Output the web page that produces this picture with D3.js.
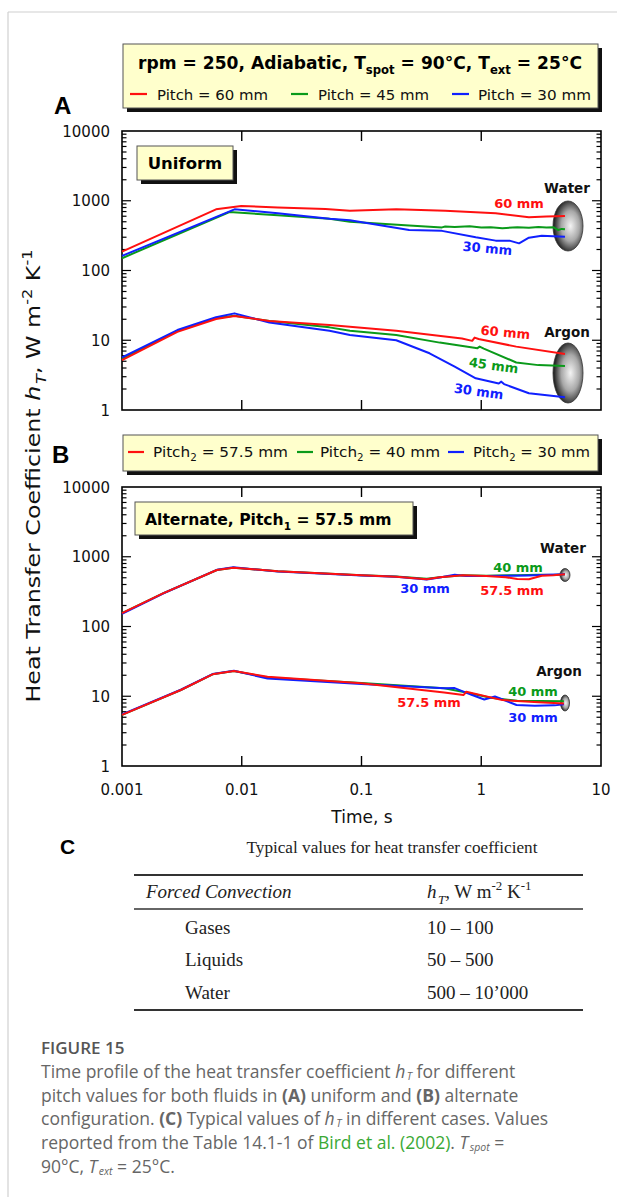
<!DOCTYPE html>
<html><head><meta charset="utf-8">
<script src="https://cdn.jsdelivr.net/npm/d3@7/dist/d3.min.js"></script>
<style>body{margin:0;background:#fff}</style>
</head><body>
<svg id="c" width="617" height="1197" xmlns="http://www.w3.org/2000/svg"></svg>
<script>
// ---------------- DATA ----------------
const timeTicks = [0.001, 0.01, 0.1, 1, 10];
const timeTickLabels = ["0.001", "0.01", "0.1", "1", "10"];
const hTicks = [1, 10, 100, 1000, 10000];
const hTickLabels = ["1", "10", "100", "1000", "10000"];

// Panel A (uniform) – water
const uniWater60 = [[0.001,186],[0.0061,754],[0.0099,841],[0.02,800],[0.05,760],[0.08,720],[0.195,754],[0.5,720],[1.32,661],[2.5,580],[3.5,595],[5,605]];
const uniWater45 = [[0.001,150],[0.0079,690],[0.02,620],[0.054,553],[0.08,500],[0.25,440],[0.47,415],[0.5,428],[0.6,420],[0.8,430],[1,412],[1.2,418],[1.5,405],[2,418],[2.5,410],[3,420],[3.5,412],[4,418],[4.4,380],[4.7,395],[5,390]];
const uniWater30 = [[0.001,162],[0.0087,754],[0.02,660],[0.054,553],[0.08,525],[0.25,380],[0.47,370],[0.9,299],[1.32,268],[1.72,268],[2.07,245],[2.5,295],[3.2,316],[5,305]];
// Panel A (uniform) – argon
const uniArgon60 = [[0.001,5.2],[0.0029,13.2],[0.0061,20.2],[0.0087,22.3],[0.017,18.9],[0.054,16.6],[0.195,13.7],[0.69,10.6],[0.84,9.8],[0.88,10.9],[0.95,10.4],[1.96,8.1],[5,6.35]];
const uniArgon45 = [[0.001,5.4],[0.0029,13.6],[0.0061,20.8],[0.0087,22.5],[0.017,18.9],[0.054,15.3],[0.08,13.7],[0.195,11.9],[0.45,9.25],[0.93,7.7],[0.97,8.1],[1.05,7.6],[1.96,4.8],[3,4.4],[5,4.27]];
const uniArgon30 = [[0.001,5.7],[0.0029,14.0],[0.0061,21.4],[0.0087,24.3],[0.017,18.0],[0.054,13.7],[0.08,11.9],[0.195,10],[0.37,6.5],[0.6,4.2],[0.9,2.85],[1.4,2.4],[1.47,2.55],[1.55,2.35],[2.5,1.74],[5,1.52]];

// Panel B (alternate) – water
const altWater575 = [[0.001,155],[0.0022,299],[0.0062,645],[0.0085,697],[0.02,620],[0.1,542],[0.195,518],[0.35,475],[0.45,507],[0.7,542],[1.1,530],[1.6,510],[2.0,478],[2.5,475],[3.2,535],[4,545],[5,560]];
const altWater40 = [[0.001,155],[0.0022,299],[0.0062,645],[0.0085,697],[0.02,620],[0.1,545],[0.195,520],[0.35,482],[0.45,510],[0.7,545],[1.1,535],[2,545],[3,550],[4,548],[5,560]];
const altWater30 = [[0.001,152],[0.0022,297],[0.0062,650],[0.0085,705],[0.02,615],[0.1,540],[0.195,515],[0.35,472],[0.45,505],[0.6,550],[0.75,530],[1.1,528],[1.6,535],[2.5,540],[3.5,550],[5,560]];
// Panel B (alternate) – argon
const altArgon575 = [[0.001,5.4],[0.0031,12.3],[0.0057,20.6],[0.0086,23],[0.0164,19],[0.1,15.3],[0.49,11.3],[0.71,10.4],[0.75,11.6],[1.5,8.8],[3,8.2],[4.9,7.9]];
const altArgon40 = [[0.001,5.4],[0.0031,12.3],[0.0057,20.6],[0.0086,23],[0.0164,18.6],[0.1,15.5],[0.49,13],[0.75,11.3],[1.2,9.5],[2,8.6],[4.9,8.5]];
const altArgon30 = [[0.001,5.5],[0.0031,12.4],[0.0057,20.8],[0.0086,23.2],[0.0164,18],[0.1,15.0],[0.49,13],[0.6,13.1],[0.84,10.4],[1.06,9.0],[1.3,9.9],[1.97,7.5],[2.8,7.3],[4.1,7.4],[4.9,7.7]];

// Table C
const tableRows = ["Gases", "Liquids", "Water"];
const tableValues = ["10 – 100", "50 – 500", "500 – 10’000"];

// ---------------- DRAW ----------------
const RED = "#ff1010", GREEN = "#0a9a1a", BLUE = "#1020ff";
const F = "DejaVu Sans";
const svg = d3.select("#c");
svg.append("rect").attr("width",617).attr("height",1197).attr("fill","#fff");
svg.append("line").attr("x1",8).attr("x2",617).attr("y1",12).attr("y2",12).attr("stroke","#d0d0d0").attr("stroke-width",1.2);
svg.append("line").attr("x1",8).attr("x2",8).attr("y1",12).attr("y2",1197).attr("stroke","#d0d0d0").attr("stroke-width",1.2);

const defs = svg.append("defs");
const rg = defs.append("radialGradient").attr("id","ball").attr("cx","58%").attr("cy","50%").attr("r","55%");
rg.append("stop").attr("offset","0%").attr("stop-color","#f4f4f4");
rg.append("stop").attr("offset","55%").attr("stop-color","#a8a8a8");
rg.append("stop").attr("offset","100%").attr("stop-color","#222");

function rich(t, segs, size, subDrop, subScale){
  subDrop = subDrop ?? 0.3; subScale = subScale ?? 0.68;
  let shift = 0;
  segs.forEach(s=>{
    const target = s.sub ? size*subDrop : (s.sup ? -size*0.42 : 0);
    const ts = t.append("tspan").text(s.t);
    if (target !== shift) ts.attr("dy", target - shift);
    shift = target;
    if (s.sub) ts.attr("font-size", size*subScale);
    if (s.sup) ts.attr("font-size", size*0.68);
    if (s.sub && s.it) ts.attr("dx", 1.5);
    if (s.it) ts.attr("font-style","italic");
    if (s.b) ts.attr("font-weight","bold");
    if (s.fill) ts.attr("fill", s.fill);
  });
  return t;
}
function box(x,y,w,h){
  svg.append("rect").attr("x",x+4).attr("y",y+4).attr("width",w).attr("height",h).attr("fill","#111");
  svg.append("rect").attr("x",x).attr("y",y).attr("width",w).attr("height",h).attr("fill","#ffffcc").attr("stroke","#555").attr("stroke-width",1);
}

const x = d3.scaleLog().domain([0.001,10]).range([122,601]);

function panel(y, water, argon, ballsW, ballsA){
  const [y0,y1] = y.range();
  svg.append("rect").attr("x",x(0.001)).attr("y",y1).attr("width",x(10)-x(0.001)).attr("height",y0-y1)
     .attr("fill","none").attr("stroke","#000").attr("stroke-width",1.6);
  y.ticks().forEach(v=>{
    const major = Math.abs(Math.log10(v) - Math.round(Math.log10(v))) < 1e-9;
    const len = major ? 9 : 4.5;
    if (v===1 || v===10000) return;
    svg.append("line").attr("x1",x(0.001)).attr("x2",x(0.001)+len).attr("y1",y(v)).attr("y2",y(v)).attr("stroke","#000").attr("stroke-width",1.2);
    svg.append("line").attr("x1",x(10)).attr("x2",x(10)-len).attr("y1",y(v)).attr("y2",y(v)).attr("stroke","#000").attr("stroke-width",1.2);
  });
  timeTicks.slice(1,-1).forEach(t=>{
    svg.append("line").attr("x1",x(t)).attr("x2",x(t)).attr("y1",y1).attr("y2",y1+10).attr("stroke","#000").attr("stroke-width",1.4);
    svg.append("line").attr("x1",x(t)).attr("x2",x(t)).attr("y1",y0).attr("y2",y0-10).attr("stroke","#000").attr("stroke-width",1.4);
  });
  hTicks.forEach((v,i)=>{
    svg.append("text").attr("x",110).attr("y",y(v)+5.5).attr("text-anchor","end")
      .attr("font-family",F).attr("font-size",15).attr("fill","#111").text(hTickLabels[i]);
  });
  [ballsW, ballsA].forEach(b=>{
    svg.append("ellipse").attr("cx",b[0]).attr("cy",b[1]).attr("rx",b[2]).attr("ry",b[3]).attr("fill","url(#ball)").attr("stroke","#333").attr("stroke-width",0.8);
  });
  const line = d3.line().x(d=>x(d[0])).y(d=>y(d[1]));
  [[water[2],GREEN],[water[1],BLUE],[water[0],RED],[argon[2],GREEN],[argon[1],BLUE],[argon[0],RED]].forEach(([d,c])=>{
    svg.append("path").datum(d).attr("d",line).attr("fill","none").attr("stroke",c).attr("stroke-width",2).attr("stroke-linejoin","round");
  });
}

function label(txt, px, py, col, size, rot, anchor){
  svg.append("text").attr("transform",`translate(${px},${py}) rotate(${rot||0})`).attr("text-anchor",anchor||"middle")
    .attr("font-family",F).attr("font-weight","bold").attr("font-size",size).attr("fill",col).text(txt);
}

// ---------- Panel A ----------
const yA = d3.scaleLog().domain([1,10000]).range([410,131]);
svg.append("text").attr("x",54).attr("y",114).attr("font-family","Liberation Sans").attr("font-weight","bold").attr("font-size",24).text("A");
box(123,44,475,64);
rich(svg.append("text").attr("x",360).attr("y",69).attr("text-anchor","middle").attr("font-family",F).attr("font-weight","bold").attr("font-size",17)
  .attr("textLength",444).attr("lengthAdjust","spacingAndGlyphs"),
  [{t:"rpm = 250, Adiabatic, T"},{t:"spot",sub:true},{t:" = 90°C, T"},{t:"ext",sub:true},{t:" = 25°C"}],17);
const legA = [["Pitch = 60 mm",RED,130,157,111],["Pitch = 45 mm",GREEN,291,318,111],["Pitch = 30 mm",BLUE,452,478,113]];
legA.forEach(([t,c,lx,tx,w])=>{
  svg.append("line").attr("x1",lx).attr("x2",lx+17).attr("y1",94).attr("y2",94).attr("stroke",c).attr("stroke-width",2.2);
  svg.append("text").attr("x",tx).attr("y",100).attr("font-family",F).attr("font-size",14.5).attr("fill","#111")
    .attr("textLength",w).attr("lengthAdjust","spacingAndGlyphs").text(t);
});
panel(yA, [uniWater60, uniWater30, uniWater45], [uniArgon60, uniArgon30, uniArgon45], [568,226,15,25], [568,373,15,30]);
box(137,146,96,34);
svg.append("text").attr("x",185).attr("y",169).attr("text-anchor","middle").attr("font-family",F).attr("font-weight","bold").attr("font-size",16.5).text("Uniform");
label("Water",567,193,"#111",13.5,0);
label("60 mm",519,208,RED,13,0);
label("30 mm",487,253,BLUE,13,5);
label("Argon",567,337,"#111",13.5,0);
label("60 mm",505,337,RED,13,5);
label("45 mm",493,370,GREEN,13,8);
label("30 mm",478,396,BLUE,13,8);

// ---------- Panel B ----------
const yB = d3.scaleLog().domain([1,10000]).range([766,487]);
svg.append("text").attr("x",52).attr("y",463).attr("font-family","Liberation Sans").attr("font-weight","bold").attr("font-size",24).text("B");
box(123,435,475,36);
const legB = [["57.5 mm",RED,128,153,135],["40 mm",GREEN,297,320,120],["30 mm",BLUE,448,473,117]];
legB.forEach(([v,c,lx,tx,w])=>{
  svg.append("line").attr("x1",lx).attr("x2",lx+16).attr("y1",452).attr("y2",452).attr("stroke",c).attr("stroke-width",2.2);
  rich(svg.append("text").attr("x",tx).attr("y",457).attr("font-family",F).attr("font-size",14.5).attr("fill","#111")
    .attr("textLength",w).attr("lengthAdjust","spacingAndGlyphs"),
    [{t:"Pitch"},{t:"2",sub:true},{t:" = "+v}],14.5);
});
panel(yB, [altWater575, altWater30, altWater40], [altArgon575, altArgon30, altArgon40], [565,575,5,6.5], [565,703,4.5,8]);
box(135,502,278,33);
rich(svg.append("text").attr("x",145).attr("y",525).attr("font-family",F).attr("font-weight","bold").attr("font-size",15.6),
  [{t:"Alternate, Pitch"},{t:"1",sub:true},{t:" = 57.5 mm"}],15.6);
label("Water",563,553,"#111",13.5,0);
label("40 mm",518,572,GREEN,13,0);
label("30 mm",425,593,BLUE,13,0);
label("57.5 mm",512,595,RED,13,0);
label("Argon",559,676,"#111",13.5,0);
label("40 mm",533,696,GREEN,13,0);
label("57.5 mm",429,707,RED,13,0);
label("30 mm",533,722,BLUE,13,0);

timeTicks.forEach((t,i)=>{
  svg.append("text").attr("x",x(t)).attr("y",795).attr("text-anchor","middle").attr("font-family",F).attr("font-size",15).attr("fill","#111").text(timeTickLabels[i]);
});
svg.append("text").attr("x",362).attr("y",823).attr("text-anchor","middle").attr("font-family",F).attr("font-size",17).attr("fill","#111").text("Time, s");

rich(svg.append("text").attr("transform","translate(40,476) rotate(-90)").attr("text-anchor","middle")
  .attr("font-family",F).attr("font-size",20).attr("fill","#111").attr("textLength",453).attr("lengthAdjust","spacingAndGlyphs"),
  [{t:"Heat Transfer Coefficient "},{t:"h",it:true},{t:"T",sub:true,it:true},{t:", W m"},{t:"-2",sup:true},{t:" K"},{t:"-1",sup:true}],20);

// ---------- Panel C (table) ----------
svg.append("text").attr("x",60).attr("y",854).attr("font-family","Liberation Sans").attr("font-weight","bold").attr("font-size",21).text("C");
const SER = "Liberation Serif", TS = 19;
svg.append("text").attr("x",392).attr("y",853).attr("text-anchor","middle").attr("font-family",SER).attr("font-size",17.2).attr("fill","#222")
  .text("Typical values for heat transfer coefficient");
[875,909,1010].forEach(yy=>svg.append("line").attr("x1",134).attr("x2",583).attr("y1",yy).attr("y2",yy).attr("stroke","#333").attr("stroke-width",yy===909?1.5:2));
svg.append("text").attr("x",146).attr("y",898).attr("font-family",SER).attr("font-style","italic").attr("font-size",TS).attr("fill","#222").text("Forced Convection");
rich(svg.append("text").attr("x",427).attr("y",898).attr("font-family",SER).attr("font-size",TS).attr("fill","#222"),
  [{t:"h",it:true},{t:"T",sub:true,it:true},{t:", W m"},{t:"-2",sup:true},{t:" K"},{t:"-1",sup:true}],TS);
tableRows.forEach((r,i)=>{
  const yy = [934,966,999][i];
  svg.append("text").attr("x",185).attr("y",yy).attr("font-family",SER).attr("font-size",TS).attr("fill","#222").text(r);
  svg.append("text").attr("x",427).attr("y",yy).attr("font-family",SER).attr("font-size",TS).attr("fill","#222").text(tableValues[i]);
});

// ---------- Caption ----------
const CF = "Open Sans", CC = "#666", LG = "#3aa935", CS = 17.5;
svg.append("text").attr("x",41).attr("y",1054).attr("font-family",CF).attr("font-weight",600).attr("font-size",17).attr("fill","#555").text("FIGURE 15");
const capLines = [
  [{t:"Time profile of the heat transfer coefficient "},{t:"h",it:true},{t:"T",sub:true,it:true},{t:" for different"}],
  [{t:"pitch values for both fluids in "},{t:"(A)",b:true},{t:" uniform and "},{t:"(B)",b:true},{t:" alternate"}],
  [{t:"configuration. "},{t:"(C)",b:true},{t:" Typical values of "},{t:"h",it:true},{t:"T",sub:true,it:true},{t:" in different cases. Values"}],
  [{t:"reported from the Table 14.1-1 of "},{t:"Bird et al. (2002)",fill:LG},{t:". "},{t:"T",it:true},{t:"spot",sub:true,it:true},{t:" ="}],
  [{t:"90°C, "},{t:"T",it:true},{t:"ext",sub:true,it:true},{t:" = 25°C."}]
];
capLines.forEach((segs,i)=>{
  rich(svg.append("text").attr("x",41).attr("y",1078+i*23.7).attr("font-family",CF).attr("font-size",CS).attr("fill",CC), segs, CS, 0.1, 0.6);
});
</script>
</body></html>
